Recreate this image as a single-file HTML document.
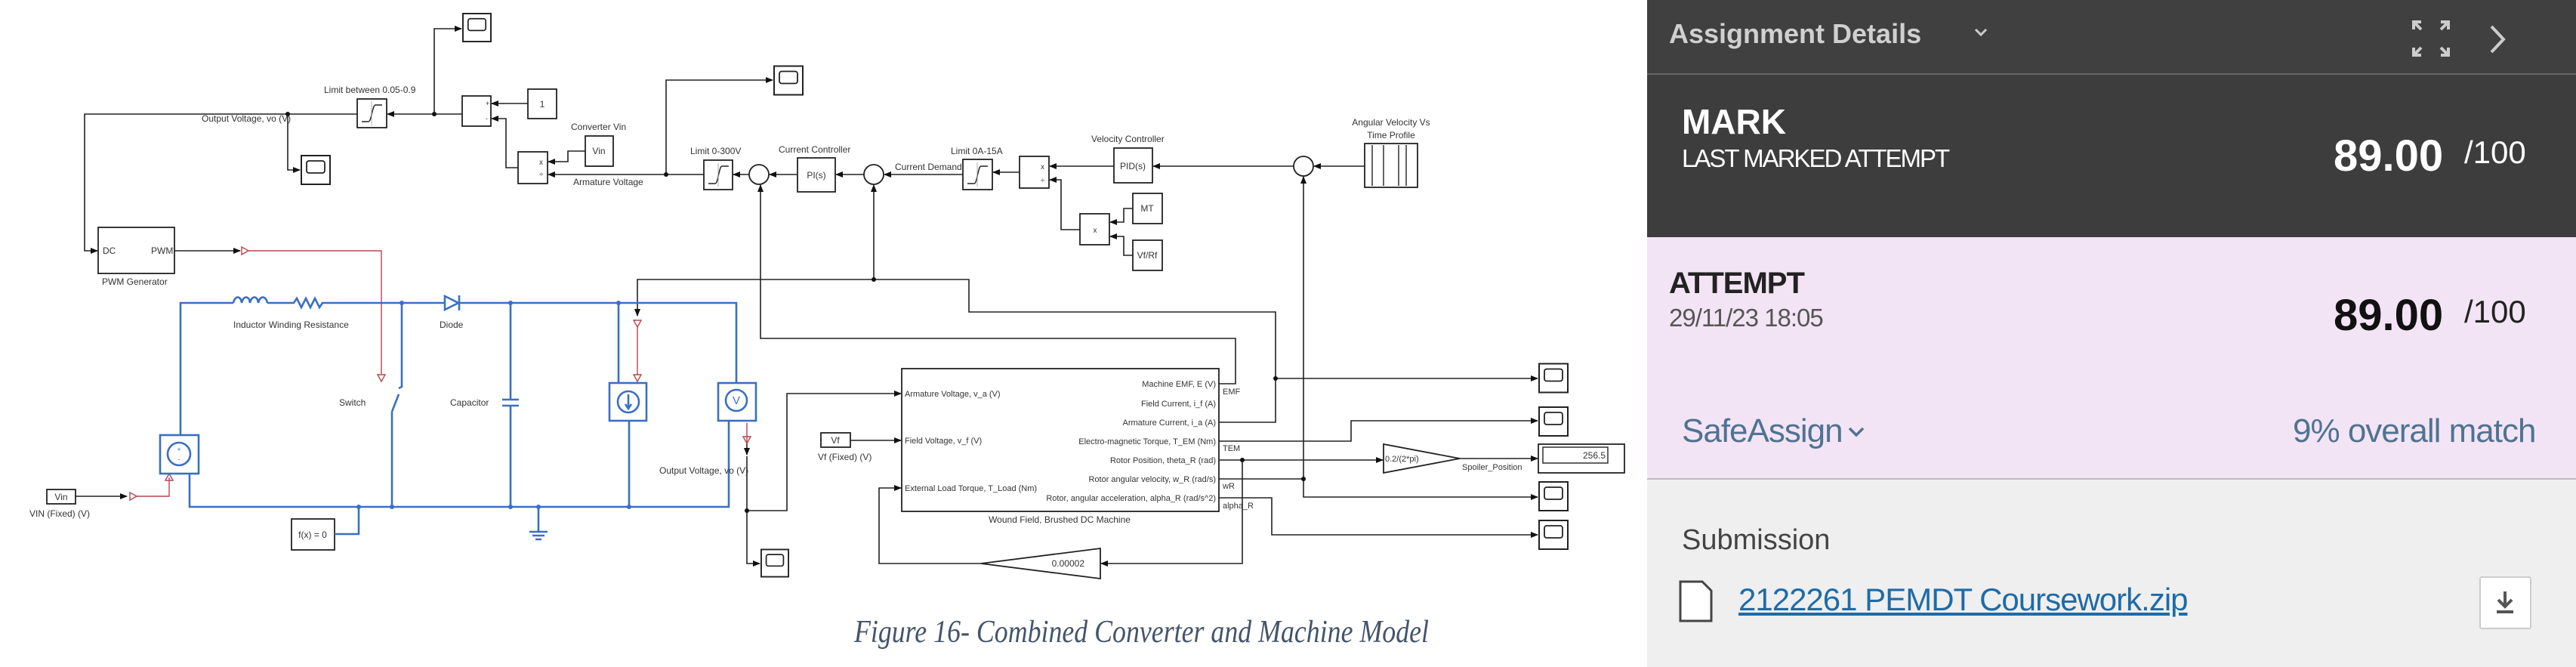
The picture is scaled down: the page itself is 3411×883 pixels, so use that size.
<!DOCTYPE html>
<html><head><meta charset="utf-8"><style>
html,body{margin:0;padding:0;width:3411px;height:883px;overflow:hidden;background:#fff;font-family:"Liberation Sans",sans-serif}
#d{position:absolute;left:0;top:0}
.p{position:absolute;left:2181px;width:1230px}
.t{position:absolute;white-space:nowrap}
</style></head><body>
<svg id="d" width="2181" height="883" viewBox="0 0 2181 883" xmlns="http://www.w3.org/2000/svg">
<defs>
<marker id="a" markerWidth="10" markerHeight="10" refX="9" refY="5" orient="auto" markerUnits="userSpaceOnUse"><path d="M0,1 L10,5 L0,9 z" fill="#111"/></marker>
<symbol id="sc" viewBox="0 0 40 40"><rect x="1" y="1" width="38" height="38" fill="#fff" stroke="#222" stroke-width="2"/><rect x="8" y="8" width="24" height="16" rx="3" fill="#fff" stroke="#222" stroke-width="1.8"/></symbol>
</defs>
<g fill="none" stroke="#222" stroke-width="1.6">
<!-- scopes -->
</g>
<use href="#sc" x="612" y="17" width="39" height="39"/>
<use href="#sc" x="398" y="204" width="40" height="42"/>
<use href="#sc" x="1024" y="86" width="40" height="41"/>
<use href="#sc" x="2037" y="480" width="40" height="41"/>
<use href="#sc" x="2037" y="538" width="40" height="40"/>
<use href="#sc" x="2037" y="636" width="40" height="42"/>
<use href="#sc" x="2037" y="688" width="40" height="40"/>
<use href="#sc" x="1007" y="725" width="38" height="41"/>
<g fill="none" stroke="#222" stroke-width="1.6">
<path d="M575,151 V38 H611" marker-end="url(#a)"/>
<path d="M612,151 H513" marker-end="url(#a)"/>
<path d="M473,151 H112 V332 H129" marker-end="url(#a)"/>
<path d="M381,151 V225 H397" marker-end="url(#a)"/>
<path d="M699,137 H651" marker-end="url(#a)"/>
<path d="M686,222 H670 V157 H651" marker-end="url(#a)"/>
<path d="M775,200 H752 V214 H726" marker-end="url(#a)"/>
<path d="M932,231 H726" marker-end="url(#a)"/>
<path d="M882,231 V106 H1023" marker-end="url(#a)"/>
<path d="M992,231 H971" marker-end="url(#a)"/>
<path d="M1056,231 H1019" marker-end="url(#a)"/>
<path d="M1144,231 H1107" marker-end="url(#a)"/>
<path d="M1275,231 H1171" marker-end="url(#a)"/>
<path d="M1350,228 H1315" marker-end="url(#a)"/>
<path d="M1475,220 H1390" marker-end="url(#a)"/>
<path d="M1430,304 H1405 V238 H1390" marker-end="url(#a)"/>
<path d="M1500,276 H1488 V294 H1470" marker-end="url(#a)"/>
<path d="M1500,338 H1488 V313 H1470" marker-end="url(#a)"/>
<path d="M1713,220 H1527" marker-end="url(#a)"/>
<path d="M1807,220 H1740" marker-end="url(#a)"/>
<path d="M1726,634 V234" marker-end="url(#a)"/>
<path d="M1726,634 V658 H2036" marker-end="url(#a)"/>
<path d="M1614,634 H1726"/>
<path d="M1157,370 V245" marker-end="url(#a)"/>
<path d="M1614,559 H1689 V413 H1283 V370 H844 V418" marker-end="url(#a)"/>
<path d="M1689,501 H2036" marker-end="url(#a)"/>
<path d="M1614,508 H1636 V448 H1007 V245" marker-end="url(#a)"/>
<path d="M1614,584 H1789 V557 H2036" marker-end="url(#a)"/>
<path d="M1614,609 H1831" marker-end="url(#a)"/>
<path d="M1933,607 H2036" marker-end="url(#a)"/>
<path d="M1645,609 V746 H1458" marker-end="url(#a)"/>
<path d="M1299,746 H1164 V646 H1193" marker-end="url(#a)"/>
<path d="M1614,659 H1684 V708 H2036" marker-end="url(#a)"/>
<path d="M1126,583 H1193" marker-end="url(#a)"/>
<path d="M989,585 V602" marker-end="url(#a)"/>
<path d="M989,604 V676 H1042 V521 H1193" marker-end="url(#a)"/>
<path d="M989,676 V746 H1006" marker-end="url(#a)"/>
<path d="M231,332 H318" marker-end="url(#a)"/>
<path d="M100,657 H168" marker-end="url(#a)"/>
</g>
<g fill="none" stroke="#b5474f" stroke-width="1.4">
<path d="M328,332 H505 V495"/><path d="M180,657 H224 V632"/><path d="M844,432 V496"/><path d="M989,560 V585"/>
<path d="M320,327 L329,332 L320,337 z"/><path d="M172,652 L181,657 L172,662 z"/><path d="M500,496 L505,505 L510,496 z"/><path d="M839,424 L844,433 L849,424 z"/><path d="M839,496 L844,505 L849,496 z"/><path d="M219,636 L224,627 L229,636 z"/><path d="M984,578 L989,587 L994,578 z"/>
</g>
<g fill="#111"><circle cx="575" cy="151" r="3"/><circle cx="381" cy="151" r="3"/><circle cx="882" cy="231" r="3"/><circle cx="1157" cy="370" r="3"/><circle cx="1689" cy="501" r="3"/><circle cx="1726" cy="634" r="3"/><circle cx="1645" cy="609" r="3"/><circle cx="989" cy="676" r="3"/></g>
<!-- blocks -->
<g fill="#fff" stroke="#222" stroke-width="1.8">
<rect x="473" y="131" width="39" height="38"/>
<rect x="612" y="127" width="38" height="40"/>
<rect x="699" y="118" width="38" height="39"/>
<rect x="775" y="180" width="37" height="40"/>
<rect x="686" y="201" width="39" height="42"/>
<rect x="130" y="301" width="101" height="61"/>
<rect x="932" y="212" width="38" height="39"/>
<circle cx="1005" cy="231" r="13"/>
<rect x="1056" y="209" width="50" height="45"/>
<circle cx="1157" cy="231" r="13"/>
<rect x="1275" y="211" width="39" height="40"/>
<rect x="1350" y="207" width="39" height="42"/>
<rect x="1475" y="196" width="51" height="46"/>
<rect x="1430" y="283" width="39" height="41"/>
<rect x="1500" y="256" width="39" height="40"/>
<rect x="1500" y="318" width="39" height="40"/>
<circle cx="1726" cy="220" r="13"/>
<rect x="1807" y="190" width="70" height="58"/>
<rect x="1194" y="488" width="420" height="189"/>
<rect x="1087" y="573" width="39" height="19"/>
<path d="M1832,588 V626 L1933,607 z"/>
<path d="M1457,726 V766 L1299,746 z"/>
<rect x="2037" y="588" width="114" height="38"/>
<rect x="2043" y="592" width="86" height="21" stroke-width="1.4"/>
<rect x="386" y="687" width="57" height="41"/>
<rect x="62" y="648" width="38" height="19"/>
</g>
<g fill="none" stroke="#222" stroke-width="1.4">
<path d="M479,161 H488 C492,161 493,139 497,139 H506"/><line x1="492" y1="134" x2="492" y2="166" stroke="#999" stroke-width="0.8"/>
<path d="M938,243 H947 C951,243 952,220 956,220 H965"/><line x1="951" y1="216" x2="951" y2="247" stroke="#999" stroke-width="0.8"/>
<path d="M1281,243 H1290 C1294,243 1295,220 1299,220 H1308"/><line x1="1294" y1="215" x2="1294" y2="247" stroke="#999" stroke-width="0.8"/>
<path d="M1817,192 V246 M1832,192 V246 M1852,192 V246 M1862,192 V246"/>
</g>
<!-- circuit -->
<g fill="none" stroke="#3a6fc4" stroke-width="2.6">
<path d="M239,576 V401 H309"/>
<path d="M309,401 c2,-10 10,-10 11,0 c2,-10 10,-10 11,0 c2,-10 10,-10 11,0 c2,-10 10,-10 12,0"/>
<path d="M354,401 H389 l4,-6 l6,12 l6,-12 l6,12 l6,-12 l6,12 l4,-6 H589"/>
<path d="M589,392 L607,401 L589,410 z M608,391 V411"/>
<path d="M608,401 H975 V507"/>
<path d="M251,627 V671 H965 V557"/>
<path d="M532,401 V512 L528,514"/><path d="M519,545 L528,522"/><path d="M519,545 V671"/>
<path d="M676,401 V529 M665,529 H687 M665,537 H687 M676,537 V671"/>
<path d="M819,401 V507 M833,557 V671"/>
<path d="M713,671 V704 M701,704 H725 M705,709 H721 M709,714 H717"/>
<path d="M443,707 H475 V671"/>
<rect x="212" y="576" width="51" height="51" fill="#fff"/><circle cx="237" cy="601" r="15"/>
<rect x="807" y="507" width="49" height="50" fill="#fff"/><circle cx="832" cy="532" r="14"/><path d="M832,522 V540 M828,535 L832,541 L836,535"/>
<rect x="951" y="507" width="50" height="50" fill="#fff"/><circle cx="975" cy="530" r="14"/>
</g>
<g fill="#3a6fc4"><circle cx="532" cy="401" r="3"/><circle cx="676" cy="401" r="3"/><circle cx="819" cy="401" r="3"/><circle cx="519" cy="671" r="3"/><circle cx="676" cy="671" r="3"/><circle cx="713" cy="671" r="3"/><circle cx="833" cy="671" r="3"/><circle cx="475" cy="671" r="3"/></g>
<g font-family="Liberation Sans, sans-serif" font-size="12" fill="#333">
<text x="975" y="535" text-anchor="middle" font-size="15" fill="#3a6fc4">V</text>
<text x="237" y="598" text-anchor="middle" font-size="9" fill="#3a6fc4">+</text><text x="237" y="611" text-anchor="middle" font-size="9" fill="#3a6fc4">-</text>
<text x="429" y="123">Limit between 0.05-0.9</text>
<text x="267" y="161">Output Voltage, vo (V)</text>
<text x="643" y="140" font-size="9">+</text><text x="643" y="160" font-size="9">-</text>
<text x="718" y="142" text-anchor="middle">1</text>
<text x="756" y="172">Converter Vin</text>
<text x="793" y="204" text-anchor="middle">Vin</text>
<text x="714" y="218" font-size="10">x</text><text x="714" y="234" font-size="10">÷</text>
<text x="759" y="245">Armature Voltage</text>
<text x="136" y="336">DC</text><text x="200" y="336">PWM</text>
<text x="135" y="377">PWM Generator</text>
<text x="914" y="204">Limit 0-300V</text>
<text x="1031" y="202">Current Controller</text>
<text x="1081" y="236" text-anchor="middle">PI(s)</text>
<text x="1185" y="225">Current Demand</text>
<text x="1259" y="204">Limit 0A-15A</text>
<text x="1378" y="224" font-size="10">x</text><text x="1378" y="242" font-size="10">÷</text>
<text x="1450" y="308" text-anchor="middle" font-size="10">x</text>
<text x="1519" y="280" text-anchor="middle">MT</text>
<text x="1519" y="342" text-anchor="middle">Vf/Rf</text>
<text x="1445" y="188">Velocity Controller</text>
<text x="1500" y="224" text-anchor="middle">PID(s)</text>
<text x="1842" y="166" text-anchor="middle">Angular Velocity Vs</text>
<text x="1842" y="183" text-anchor="middle">Time Profile</text>
<text x="309" y="434">Inductor Winding Resistance</text>
<text x="582" y="434">Diode</text>
<text x="449" y="537">Switch</text>
<text x="596" y="537">Capacitor</text>
<text x="873" y="627">Output Voltage, vo (V)</text>
<text x="81" y="662" text-anchor="middle">Vin</text>
<text x="39" y="684">VIN (Fixed) (V)</text>
<text x="414" y="712" text-anchor="middle">f(x) = 0</text>
<text x="1106" y="587" text-anchor="middle">Vf</text>
<text x="1083" y="609">Vf (Fixed) (V)</text>
<g font-size="11">
<text x="1198" y="525">Armature Voltage, v_a (V)</text>
<text x="1198" y="587">Field Voltage, v_f (V)</text>
<text x="1198" y="650">External Load Torque, T_Load (Nm)</text>
<g text-anchor="end">
<text x="1610" y="512">Machine EMF, E (V)</text>
<text x="1610" y="538">Field Current, i_f (A)</text>
<text x="1610" y="563">Armature Current, i_a (A)</text>
<text x="1610" y="588">Electro-magnetic Torque, T_EM (Nm)</text>
<text x="1610" y="613">Rotor Position, theta_R (rad)</text>
<text x="1610" y="638">Rotor angular velocity, w_R (rad/s)</text>
<text x="1610" y="663">Rotor, angular acceleration, alpha_R (rad/s^2)</text>
</g>
<text x="1619" y="522">EMF</text><text x="1619" y="597">TEM</text><text x="1619" y="647">wR</text><text x="1619" y="673">alpha_R</text>
</g>
<text x="1403" y="692" text-anchor="middle">Wound Field, Brushed DC Machine</text>
<text x="1834" y="611" font-size="11">0.2/(2*pi)</text>
<text x="1936" y="622" font-size="11">Spoiler_Position</text>
<text x="2126" y="607" text-anchor="end">256.5</text>
<text x="1436" y="750" text-anchor="end">0.00002</text>
</g>
<text x="1131" y="850" font-family="Liberation Serif, serif" font-style="italic" font-size="42" fill="#44546a" textLength="761" lengthAdjust="spacingAndGlyphs">Figure 16- Combined Converter and Machine Model</text>
</svg>

<div class="p" style="top:0;height:97px;background:#404040;border-bottom:2px solid #666"></div>
<div class="p" style="top:99px;height:215px;background:#3d3d3d"></div>
<div class="p" style="top:314px;height:319px;background:#f3e4f5;border-bottom:2px solid #bbb"></div>
<div class="p" style="top:635px;height:248px;background:#efefef"></div>

<div class="t" style="left:2210px;top:24px;font-size:36px;font-weight:bold;color:#d0d0d0">Assignment Details</div>
<svg style="position:absolute;left:2613px;top:36px" width="20" height="14"><path d="M3,3 L10,10 L17,3" fill="none" stroke="#ccc" stroke-width="3"/></svg>
<svg style="position:absolute;left:3192px;top:25px" width="54" height="52"><g fill="none" stroke="#ccc" stroke-width="4"><path d="M4,14 V4 H14 M4,4 L14,14 M50,14 V4 H40 M50,4 L40,14 M4,38 V48 H14 M4,48 L14,38 M50,38 V48 H40 M50,48 L40,38"/></g></svg>
<svg style="position:absolute;left:3293px;top:32px" width="28" height="40"><path d="M6,3 L22,20 L6,37" fill="none" stroke="#ccc" stroke-width="4"/></svg>

<div class="t" style="left:2227px;top:136px;font-size:46px;font-weight:bold;color:#fff;line-height:50px">MARK</div>
<div class="t" style="left:2227px;top:192px;font-size:33px;color:#fff;letter-spacing:-2px;line-height:36px">LAST MARKED ATTEMPT</div>
<div class="t" style="left:3090px;top:176px;font-size:58px;font-weight:bold;color:#fff;line-height:62px">89.00</div>
<div class="t" style="left:3263px;top:180px;font-size:42px;color:#fff;line-height:44px">/100</div>

<div class="t" style="left:2210px;top:353px;font-size:40px;font-weight:bold;color:#222;line-height:44px;letter-spacing:-1px">ATTEMPT</div>
<div class="t" style="left:2210px;top:403px;font-size:33px;color:#555;line-height:36px;letter-spacing:-1px">29/11/23 18:05</div>
<div class="t" style="left:3090px;top:387px;font-size:58px;font-weight:bold;color:#111;line-height:62px">89.00</div>
<div class="t" style="left:3263px;top:391px;font-size:42px;color:#222;line-height:44px">/100</div>

<div class="t" style="left:2227px;top:546px;font-size:44px;color:#4f7391;line-height:50px;letter-spacing:-1px">SafeAssign</div>
<svg style="position:absolute;left:2446px;top:564px" width="24" height="16"><path d="M3,3 L12,12 L21,3" fill="none" stroke="#4f7391" stroke-width="3.5"/></svg>
<div class="t" style="left:3036px;top:546px;font-size:44px;color:#4f7391;line-height:50px;letter-spacing:-1px">9% overall match</div>

<div class="t" style="left:2227px;top:693px;font-size:38px;color:#444;line-height:44px">Submission</div>
<svg style="position:absolute;left:2222px;top:767px" width="48" height="58"><path d="M3,3 H32 L44,15 V55 H3 z" fill="#fff" stroke="#444" stroke-width="3"/></svg>
<div class="t" style="left:2302px;top:770px;font-size:42px;color:#1e6ba8;line-height:48px;text-decoration:underline;letter-spacing:-1px">2122261 PEMDT Coursework.zip</div>
<div style="position:absolute;left:3283px;top:763px;width:65px;height:66px;background:#fff;border:2px solid #ccc;border-radius:3px"></div>
<svg style="position:absolute;left:3300px;top:780px" width="34" height="34"><path d="M17,3 V22 M8,14 L17,23 L26,14 M6,30 H28" fill="none" stroke="#555" stroke-width="4"/></svg>
</body></html>
